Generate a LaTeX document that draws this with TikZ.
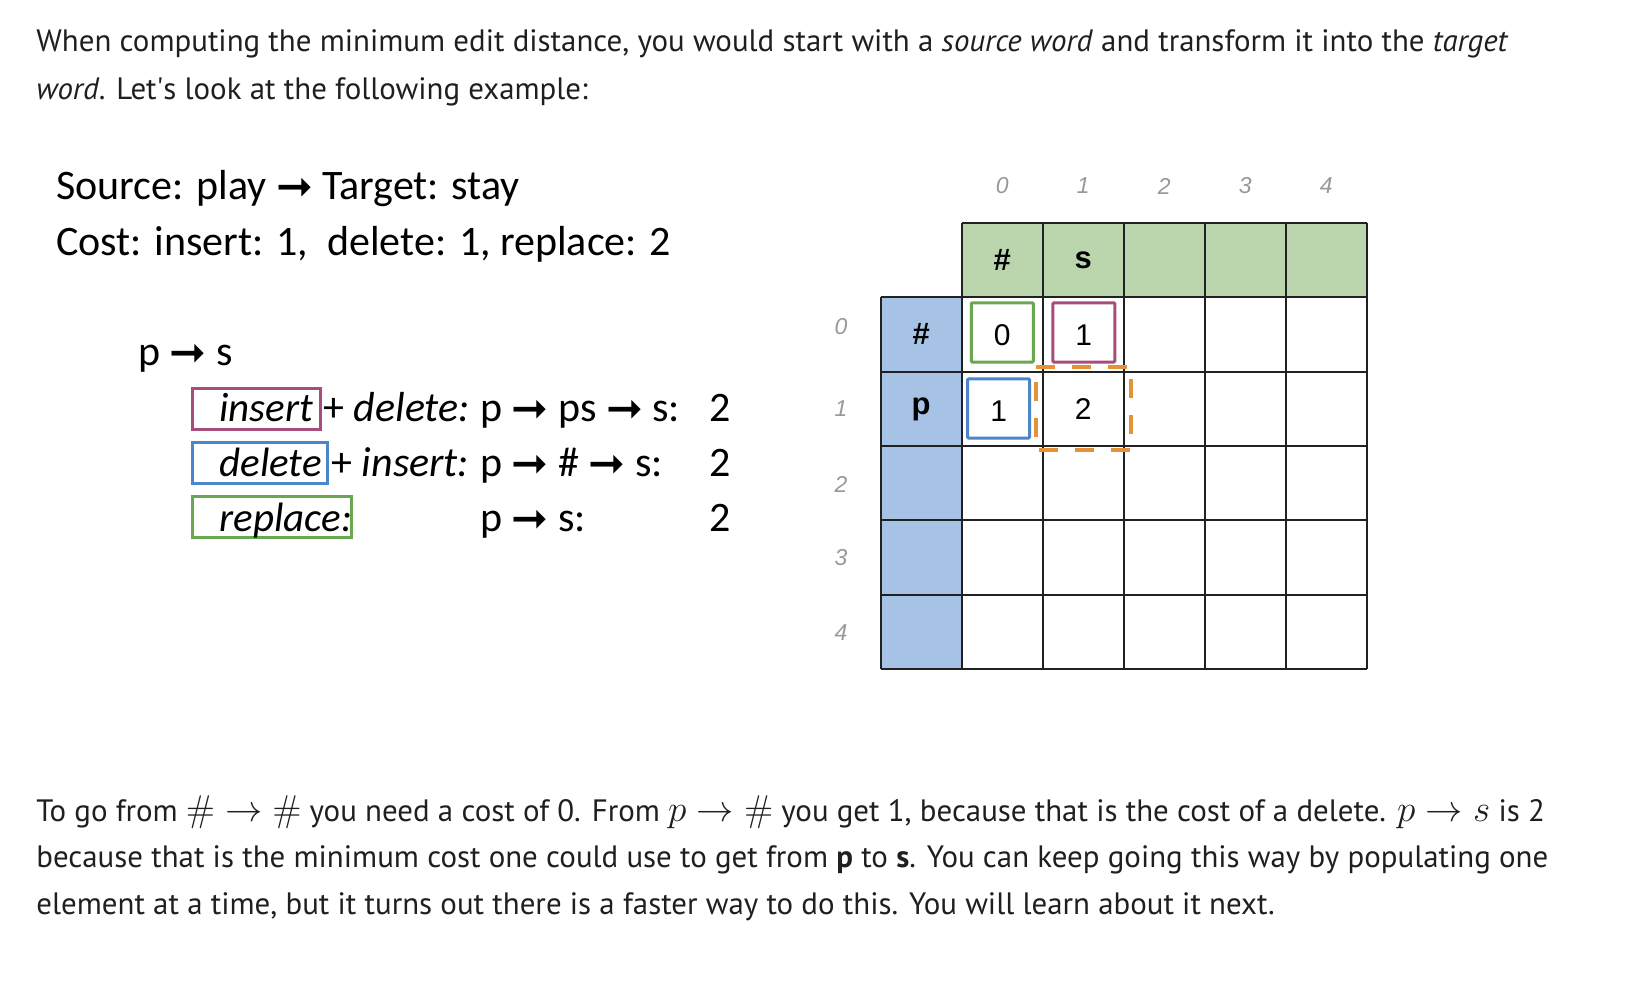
\RequirePackage{fix-cm}
\documentclass[tikz,border=0pt]{standalone}
\usepackage[no-math]{fontspec}
\setmainfont{PT Sans}
\newfontfamily\slidefont{Carlito}
\newfontfamily\sheetfont{Liberation Sans}
\newfontfamily\arrowfont{DejaVu Sans}
\usepackage{xcolor}
\definecolor{txtblack}{RGB}{31,31,31}
\definecolor{hdrgreen}{RGB}{187,214,172}
\definecolor{hdrblue}{RGB}{166,195,230}
\definecolor{boxgreen}{RGB}{106,168,79}
\definecolor{boxpink}{RGB}{166,77,121}
\definecolor{boxblue}{RGB}{74,134,200}
\definecolor{boxorange}{RGB}{230,145,56}
\definecolor{idxgray}{RGB}{153,153,153}
\definecolor{gridline}{RGB}{33,33,33}
\usetikzlibrary{positioning}
\newcommand{\rarr}{\raisebox{-1.2pt}{\arrowfont\fontsize{22}{22}\selectfont ➞}}
\newcommand{\bigmath}[1]{{\fontsize{18.6}{20}\selectfont$#1$}}

\begin{document}
\begin{tikzpicture}[x=0.5pt,y=-0.5pt,
  para/.style={anchor=base west, inner sep=0pt, text=txtblack, font=\fontsize{15.45}{18}\selectfont},
  slide/.style={anchor=base west, inner sep=0pt, font=\slidefont\fontsize{21}{25}\selectfont},
  opword/.style={slide, font=\slidefont\itshape\fontsize{20.5}{25}\selectfont},
  sheet/.style={inner sep=0pt, font=\sheetfont\fontsize{15}{18}\selectfont},
  sheethead/.style={sheet, font=\sheetfont\bfseries\fontsize{15.5}{18}\selectfont},
  idx/.style={inner sep=0pt, text=idxgray, font=\sheetfont\itshape\fontsize{11.5}{13}\selectfont},
  opbox/.style={line width=1.5pt},
  cellbox/.style={draw, line width=1.5pt, rounded corners=0.5pt, inner sep=0pt, text height=12.7pt, text depth=0pt, minimum width=31pt, minimum height=29.6pt}]
  \useasboundingbox (0,0) rectangle (1628,992);

  % --- intro text ---
  \node[para] (intro1) at (36,51) {When computing the minimum edit distance, you would start with a \textit{source word} and transform it into the \textit{target}};
  \node[para] (intro2) at (36,99) {\textit{word}. Let\textquotesingle s look at the following example:};

  % --- Left: example ---
  \node[slide] (src) at (56,199) {Source: play \rarr{} Target: stay};
  \node[slide] (cost) at (56,255) {Cost: insert: 1,\ \ delete: 1, replace: 2};
  \node[slide] (ps) at (138,365) {p \rarr{} s};

  % insert + delete
  \draw[opbox, boxpink] (192,388) rectangle (320,429);
  \node[opword] (insA) at (219,421) {insert};
  \node[slide] (insB) at (323,421) {+ \textit{delete:}};
  \node[slide] (insC) at (480,421) {p \rarr{} ps \rarr{} s:};
  \node[slide] (insD) at (709,421) {2};

  % delete + insert
  \draw[opbox, boxblue] (192,442) rectangle (327,483);
  \node[opword] (delA) at (219,476) {delete};
  \node[slide] (delB) at (331,476) {+ \textit{insert:}};
  \node[slide] (delC) at (480,476) {p \rarr{} \# \rarr{} s:};
  \node[slide] (delD) at (709,476) {2};

  % replace
  \draw[opbox, boxgreen] (192,496) rectangle (351,537);
  \node[opword] (repA) at (219,531) {replace:};
  \node[slide] (repC) at (480,531) {p \rarr{} s:};
  \node[slide] (repD) at (709,531) {2};

  % --- Right: table ---
  \fill[hdrgreen] (961.7,222.7) rectangle (1366.8,297.1);
  \fill[hdrblue] (880.7,297.1) rectangle (961.7,669.1);
  \draw[gridline, line width=1pt] (961.7,222.7) -- (1366.8,222.7);
  \foreach \r in {0,...,5}
    \draw[gridline, line width=1pt] (880.7,{297.1+74.4*\r}) -- (1366.8,{297.1+74.4*\r});
  \draw[gridline, line width=1pt] (880.7,297.1) -- (880.7,669.1);
  \foreach \c in {0,...,5}
    \draw[gridline, line width=1pt] ({961.7+81*\c},222.7) -- ({961.7+81*\c},669.1);

  % index labels
  \foreach \c in {0,...,4}
    \node[idx] (col\c) at ({1002.2+81*\c},186) {\c};
  \foreach \r/\y in {0/327,1/409,2/484,3/558,4/633}
    \node[idx] (row\r) at (841,\y) {\r};

  % headers
  \node[sheethead] (hHash) at (1002.2,260) {\#};
  \node[sheethead] (hS) at (1083.3,260) {s};
  \node[sheethead] (vHash) at (921.2,334) {\#};
  \node[sheethead] (vP) at (921.2,409) {p};

  % filled cells
  \node[sheet, cellbox, draw=boxgreen] (c00) at (1002.3,332.4) {0};
  \node[sheet, cellbox, draw=boxpink] (c01) at (1083.8,332.4) {1};
  \node[sheet, cellbox, draw=boxblue] (c10) at (998.6,408.4) {1};
  \node[sheet] (c11) at (1083.3,409) {2};
  \draw[boxorange, line width=2pt, dash pattern=on 9.5pt off 8.5pt]
    (1036,367) -- (1130,367)
    (1035.5,382) -- (1035.5,440)
    (1130.5,379) -- (1130.5,440)
    (1039,450) -- (1131,450);

  % --- closing text ---
  \node[para] (outro1) at (36,821) {To go from \bigmath{\#\rightarrow\#} you need a cost of 0. From \bigmath{p\rightarrow\#} you get 1, because that is the cost of a delete. \bigmath{p\rightarrow s} is 2};
  \node[para] (outro2) at (36,867) {because that is the minimum cost one could use to get from \textbf{p} to \textbf{s}. You can keep going this way by populating one};
  \node[para] (outro3) at (36,914) {element at a time, but it turns out there is a faster way to do this. You will learn about it next.};
\end{tikzpicture}
\end{document}
